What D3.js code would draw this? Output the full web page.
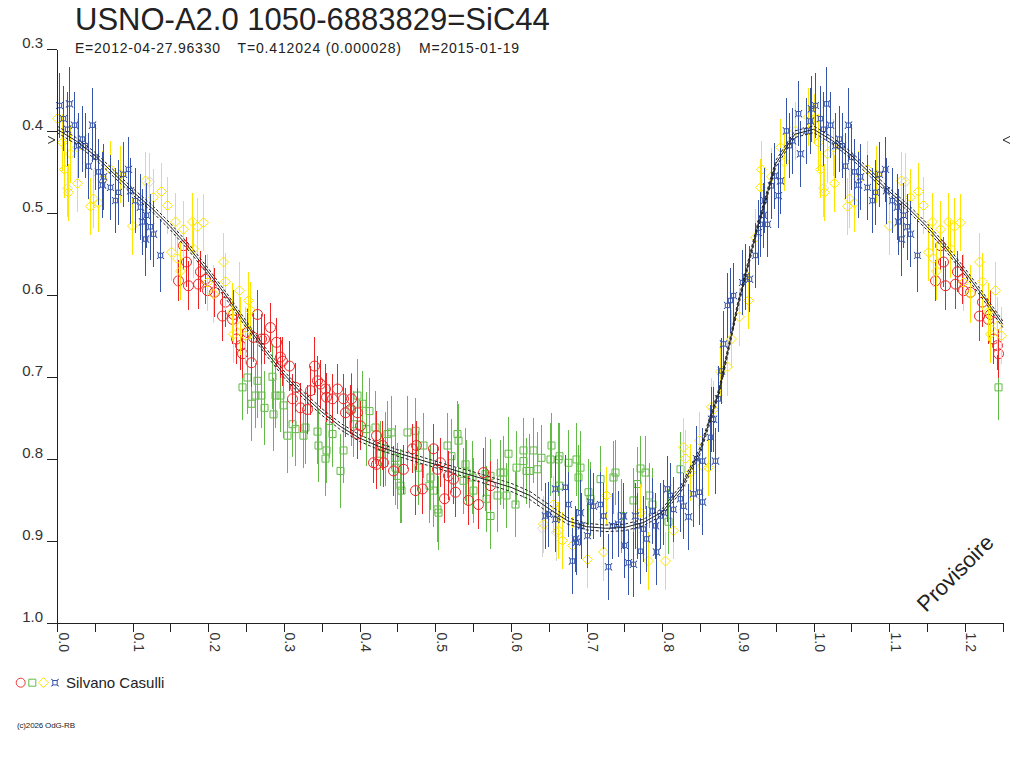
<!DOCTYPE html>
<html>
<head>
<meta charset="utf-8">
<script src="https://cdn.jsdelivr.net/npm/d3@7"></script>
<style>
  body { margin: 0; background: #fff; }
  svg { display: block; }
</style>
</head>
<body>
<svg id="chart" width="1024" height="768"></svg>
<script>

// phase folded data: [phase, magnitude, error]; phases 0..0.25 are repeated after 1.0
var redObs = [
  [0.160,0.583,0.025],[0.167,0.540,0.030],[0.171,0.560,0.030],[0.173,0.589,0.030],[0.187,0.587,0.030],
  [0.189,0.572,0.025],[0.196,0.581,0.030],[0.198,0.595,0.025],[0.207,0.597,0.030],[0.218,0.626,0.030],
  [0.222,0.609,0.030],[0.231,0.630,0.030],[0.233,0.624,0.030],[0.237,0.654,0.030],[0.242,0.662,0.030],
  [0.244,0.672,0.030],[0.251,0.646,0.030],[0.257,0.683,0.030],[0.259,0.652,0.030],[0.264,0.624,0.030],
  [0.270,0.654,0.030],[0.273,0.654,0.030],[0.281,0.640,0.030],[0.290,0.658,0.030],[0.295,0.676,0.025],
  [0.297,0.681,0.030],[0.306,0.687,0.030],[0.310,0.727,0.030],[0.314,0.713,0.030],[0.321,0.738,0.030],
  [0.330,0.740,0.030],[0.334,0.717,0.030],[0.339,0.687,0.035],[0.343,0.705,0.030],[0.347,0.709,0.030],
  [0.354,0.715,0.030],[0.356,0.725,0.030],[0.363,0.727,0.030],[0.370,0.715,0.030],[0.378,0.727,0.030],
  [0.380,0.744,0.030],[0.387,0.740,0.030],[0.389,0.727,0.030],[0.396,0.744,0.030],[0.396,0.770,0.030],
  [0.400,0.760,0.030],[0.418,0.805,0.025],[0.422,0.772,0.030],[0.422,0.807,0.030],[0.429,0.784,0.030],
  [0.431,0.805,0.030],[0.444,0.815,0.030],[0.457,0.813,0.030],[0.469,0.788,0.030],[0.473,0.839,0.030],
  [0.475,0.784,0.030],[0.482,0.837,0.030],[0.497,0.788,0.030],[0.502,0.813,0.030],[0.506,0.805,0.030],
  [0.511,0.849,0.030],[0.517,0.821,0.030],[0.524,0.825,0.030],[0.526,0.841,0.030],[0.543,0.851,0.030],
  [0.556,0.856,0.030],[0.563,0.817,0.030],[0.572,0.833,0.030]
];

var greenObs = [
  [0.244,0.713,0.040],[0.251,0.701,0.045],[0.257,0.733,0.045],[0.262,0.723,0.040],[0.264,0.705,0.045],
  [0.270,0.723,0.040],[0.273,0.738,0.045],[0.284,0.700,0.040],[0.286,0.746,0.045],[0.288,0.723,0.040],
  [0.295,0.723,0.045],[0.299,0.735,0.040],[0.304,0.772,0.045],[0.310,0.758,0.040],[0.314,0.764,0.045],
  [0.325,0.772,0.040],[0.328,0.762,0.045],[0.343,0.767,0.040],[0.345,0.784,0.045],[0.354,0.800,0.045],
  [0.356,0.790,0.040],[0.360,0.754,0.045],[0.363,0.770,0.040],[0.374,0.815,0.045],[0.378,0.790,0.040],
  [0.389,0.740,0.045],[0.391,0.758,0.040],[0.396,0.723,0.045],[0.403,0.733,0.040],[0.409,0.764,0.045],
  [0.413,0.742,0.040],[0.420,0.762,0.045],[0.427,0.794,0.040],[0.433,0.788,0.045],[0.436,0.770,0.040],
  [0.442,0.768,0.045],[0.447,0.799,0.040],[0.447,0.811,0.045],[0.449,0.821,0.040],[0.453,0.833,0.045],
  [0.455,0.839,0.040],[0.462,0.768,0.045],[0.473,0.766,0.040],[0.477,0.811,0.045],[0.484,0.784,0.040],
  [0.491,0.833,0.045],[0.493,0.823,0.040],[0.497,0.839,0.045],[0.502,0.862,0.040],[0.504,0.866,0.045],
  [0.515,0.784,0.040],[0.521,0.797,0.045],[0.528,0.770,0.040],[0.530,0.778,0.045],[0.537,0.827,0.040],
  [0.539,0.807,0.045],[0.541,0.817,0.040],[0.548,0.823,0.045],[0.550,0.839,0.040],[0.565,0.819,0.045],
  [0.567,0.849,0.040],[0.572,0.821,0.045],[0.572,0.870,0.040],[0.581,0.845,0.045],[0.585,0.817,0.040],
  [0.590,0.817,0.045],[0.594,0.845,0.040],[0.596,0.794,0.045],[0.605,0.856,0.040],[0.607,0.811,0.045],
  [0.616,0.790,0.040],[0.616,0.803,0.045],[0.620,0.815,0.040],[0.624,0.815,0.045],[0.629,0.790,0.040],
  [0.634,0.813,0.045],[0.640,0.799,0.040],[0.651,0.801,0.045],[0.653,0.784,0.040],[0.662,0.801,0.045],
  [0.664,0.797,0.040],[0.664,0.833,0.045],[0.675,0.805,0.040],[0.686,0.801,0.045],[0.689,0.823,0.040],
  [0.691,0.811,0.045],[0.702,0.841,0.040],[0.704,0.849,0.045],[0.717,0.825,0.040],[0.735,0.823,0.045],
  [0.737,0.817,0.040],[0.746,0.870,0.045],[0.761,0.851,0.040],[0.766,0.831,0.045],[0.770,0.812,0.040],
  [0.777,0.817,0.045],[0.783,0.845,0.040],[0.786,0.856,0.045],[0.808,0.877,0.040],[0.823,0.813,0.045]
];

var yellowObs = [
  [0.000,0.385,0.030],[0.006,0.414,0.035],[0.009,0.447,0.035],[0.014,0.475,0.035],[0.017,0.428,0.035],
  [0.026,0.420,0.035],[0.027,0.464,0.035],[0.044,0.492,0.035],[0.047,0.483,0.035],[0.054,0.488,0.035],
  [0.059,0.459,0.035],[0.070,0.447,0.035],[0.083,0.453,0.035],[0.099,0.516,0.035],[0.116,0.461,0.035],
  [0.127,0.481,0.035],[0.138,0.474,0.035],[0.145,0.491,0.035],[0.151,0.548,0.035],[0.156,0.511,0.035],
  [0.158,0.556,0.035],[0.162,0.571,0.035],[0.167,0.520,0.035],[0.178,0.511,0.035],[0.180,0.544,0.035],
  [0.185,0.517,0.035],[0.193,0.512,0.035],[0.198,0.585,0.035],[0.206,0.599,0.035],[0.219,0.560,0.035],
  [0.222,0.584,0.035],[0.231,0.621,0.035],[0.233,0.648,0.035],[0.240,0.595,0.035],[0.242,0.638,0.035],
  [0.248,0.650,0.035],[0.253,0.607,0.035],[0.255,0.619,0.035],
  [0.642,0.880,0.035],[0.656,0.856,0.035],[0.662,0.888,0.035],[0.667,0.900,0.035],[0.680,0.906,0.035],
  [0.701,0.923,0.035],[0.721,0.914,0.035],[0.726,0.845,0.035],[0.770,0.866,0.035],[0.781,0.925,0.035],
  [0.803,0.925,0.035],[0.814,0.888,0.035],[0.827,0.786,0.035],[0.830,0.800,0.035],[0.836,0.817,0.035],
  [0.849,0.778,0.035],[0.852,0.809,0.035],[0.860,0.811,0.035],[0.865,0.737,0.035],[0.867,0.740,0.035],
  [0.876,0.694,0.035],[0.885,0.688,0.035],[0.891,0.654,0.035],[0.902,0.627,0.035],[0.913,0.607,0.035],
  [0.922,0.530,0.035],[0.929,0.469,0.035],[0.931,0.447,0.035],[0.944,0.456,0.035],[0.955,0.420,0.035],
  [0.961,0.438,0.035],[0.975,0.400,0.035],[0.992,0.383,0.035]
];

var blueObs = [
  [0.002,0.369,0.040],[0.008,0.385,0.040],[0.013,0.398,0.045],[0.016,0.367,0.045],[0.022,0.393,0.040],
  [0.028,0.418,0.040],[0.033,0.410,0.040],[0.037,0.418,0.040],[0.041,0.443,0.040],[0.046,0.393,0.045],
  [0.050,0.432,0.040],[0.054,0.450,0.040],[0.059,0.466,0.040],[0.061,0.456,0.040],[0.070,0.469,0.040],
  [0.077,0.485,0.040],[0.081,0.475,0.040],[0.087,0.453,0.040],[0.094,0.447,0.040],[0.096,0.473,0.040],
  [0.103,0.485,0.040],[0.110,0.493,0.040],[0.112,0.511,0.040],[0.116,0.532,0.045],[0.118,0.503,0.040],
  [0.123,0.517,0.040],[0.127,0.526,0.040],[0.136,0.552,0.045],
  [0.645,0.870,0.040],[0.649,0.868,0.040],[0.658,0.837,0.040],[0.658,0.874,0.040],[0.671,0.835,0.040],
  [0.675,0.856,0.040],[0.680,0.925,0.040],[0.684,0.898,0.040],[0.686,0.902,0.040],[0.691,0.866,0.040],
  [0.693,0.882,0.040],[0.700,0.894,0.040],[0.704,0.853,0.040],[0.708,0.858,0.040],[0.717,0.856,0.040],
  [0.721,0.870,0.040],[0.728,0.932,0.040],[0.734,0.882,0.040],[0.741,0.880,0.040],[0.748,0.870,0.040],
  [0.750,0.906,0.040],[0.754,0.927,0.040],[0.761,0.929,0.040],[0.764,0.870,0.040],[0.766,0.882,0.040],
  [0.770,0.913,0.040],[0.774,0.886,0.040],[0.779,0.898,0.040],[0.786,0.864,0.040],[0.790,0.882,0.040],
  [0.792,0.914,0.040],[0.797,0.870,0.040],[0.801,0.866,0.040],[0.806,0.837,0.040],[0.810,0.845,0.040],
  [0.814,0.862,0.040],[0.823,0.849,0.040],[0.827,0.858,0.040],[0.834,0.871,0.040],[0.840,0.843,0.040],
  [0.845,0.800,0.040],[0.849,0.841,0.040],[0.852,0.853,0.040],[0.853,0.803,0.040],[0.863,0.774,0.040],
  [0.865,0.752,0.040],[0.867,0.752,0.040],[0.869,0.803,0.040],[0.873,0.727,0.040],[0.878,0.693,0.040],
  [0.880,0.660,0.040],[0.885,0.613,0.040],[0.889,0.607,0.040],[0.893,0.601,0.040],[0.905,0.585,0.040],
  [0.909,0.578,0.040],[0.915,0.581,0.040],[0.922,0.552,0.040],[0.926,0.524,0.040],[0.929,0.514,0.040],
  [0.933,0.503,0.040],[0.935,0.485,0.040],[0.938,0.514,0.040],[0.944,0.467,0.040],[0.948,0.455,0.040],
  [0.953,0.479,0.040],[0.955,0.461,0.040],[0.964,0.400,0.040],[0.968,0.418,0.040],[0.972,0.412,0.040],
  [0.979,0.379,0.040],[0.982,0.428,0.040],[0.990,0.400,0.040],[0.995,0.388,0.040],[0.997,0.373,0.040]
];

// rejected points, drawn light grey
var greyObs = [
  [0.013,0.470,0.035],[0.121,0.462,0.035],[0.641,0.885,0.035],[0.660,0.890,0.035]
];

// mean light curve and its uncertainty
var fitPhase = [0.000,0.025,0.050,0.075,0.100,0.125,0.150,0.175,0.200,0.225,0.250,0.275,0.300,0.325,
  0.350,0.375,0.400,0.425,0.450,0.475,0.500,0.525,0.550,0.575,0.600,0.625,0.650,0.675,0.700,0.725,
  0.750,0.775,0.800,0.825,0.850,0.875,0.900,0.925,0.950,0.975];
var fitMag = [0.398,0.412,0.430,0.452,0.474,0.494,0.517,0.543,0.572,0.603,0.636,0.668,0.697,0.722,
  0.743,0.761,0.775,0.785,0.793,0.800,0.807,0.814,0.821,0.828,0.835,0.845,0.861,0.876,0.883,0.885,
  0.884,0.878,0.865,0.836,0.790,0.718,0.612,0.520,0.440,0.404];
var fitErr = [0.004,0.004,0.004,0.004,0.004,0.004,0.004,0.004,0.004,0.004,0.004,0.004,0.004,0.004,
  0.004,0.004,0.004,0.004,0.004,0.004,0.004,0.004,0.005,0.005,0.005,0.005,0.005,0.004,0.004,0.004,
  0.004,0.004,0.004,0.004,0.004,0.004,0.004,0.004,0.004,0.004];

var xTicks = [0.0,0.1,0.2,0.3,0.4,0.5,0.6,0.7,0.8,0.9,1.0,1.1,1.2];
var xMinorTicks = [0.05,0.15,0.25,0.35,0.45,0.55,0.65,0.75,0.85,0.95,1.05,1.15,1.25];
var yTicks = [0.3,0.4,0.5,0.6,0.7,0.8,0.9,1.0];
var MAX_MAG_MARK = 0.411;

var TITLE = "USNO-A2.0 1050-6883829=SiC44";
var SUB_E = "E=2012-04-27.96330";
var SUB_T = "T=0.412024 (0.000028)";
var SUB_M = "M=2015-01-19";
var OBSERVER = "Silvano Casulli";

var FONT = "'Liberation Sans', Arial, sans-serif";
var INK = "#222";
var COLORS = { red: "#ee2424", green: "#62bb46", yellow: "#ffe600", blue: "#3553a8", grey: "#d4d4d4" };

var svg = d3.select("#chart");

var x = d3.scaleLinear().domain([0, 1.25]).range([57, 1002.8]);
var y = d3.scaleLinear().domain([0.3, 1.0]).range([49, 622.5]);

// fold: repeat the first quarter of the cycle after phase 1
function fold(obs) {
  var out = obs.slice();
  obs.forEach(function(d) {
    if(d[0] + 1 <= 1.25) out.push([d[0] + 1, d[1], d[2]]);
  });
  return out;
}

// symbols
var symbolPath = {
  circle: "M5,0A5,5 0 1,1 -5,0A5,5 0 1,1 5,0Z",
  square: "M-3.5,-3.5H3.5V3.5H-3.5Z",
  diamond: "M0,-5L5,0L0,5L-5,0Z",
  blue: "M-3.5,-3.5L-2,-2.2L2,-2.2L3.5,-3.5L2.2,-2L2.2,2L3.5,3.5L2,2.2L-2,2.2L-3.5,3.5L-2.2,2L-2.2,-2Z"
};

function drawSeries(obs, color, symbol) {
  var pts = fold(obs);
  var g = svg.append("g");
  g.selectAll("line.err").data(pts).enter().append("line")
    .attr("x1", function(d) { return Math.round(x(d[0])) + 0.5; })
    .attr("x2", function(d) { return Math.round(x(d[0])) + 0.5; })
    .attr("y1", function(d) { return y(d[1] - d[2]); })
    .attr("y2", function(d) { return y(d[1] + d[2]); })
    .attr("stroke", color)
    .attr("stroke-width", 1)
    .attr("shape-rendering", "crispEdges");
  g.selectAll("path.sym").data(pts).enter().append("path")
    .attr("d", symbolPath[symbol])
    .attr("transform", function(d) { return "translate(" + (Math.round(x(d[0])) + 0.5) + "," + y(d[1]) + ")"; })
    .attr("fill", "none")
    .attr("stroke", color)
    .attr("stroke-width", 1);
}

drawSeries(greyObs, COLORS.grey, "diamond");
drawSeries(greenObs, COLORS.green, "square");
drawSeries(redObs, COLORS.red, "circle");
drawSeries(yellowObs, COLORS.yellow, "diamond");
drawSeries(blueObs, COLORS.blue, "blue");

// fit curve, with the first quarter repeated and closed at phase 1
var fit = fitPhase.map(function(p, i) { return [p, fitMag[i], fitErr[i]]; });
fit.push([1.0, fitMag[0], fitErr[0]]);
fitPhase.forEach(function(p, i) {
  if(p > 0 && p + 1 <= 1.25) fit.push([p + 1, fitMag[i], fitErr[i]]);
});

var line = d3.line()
  .x(function(d) { return x(d[0]); })
  .y(function(d) { return y(d[1]); });

svg.append("path").datum(fit.map(function(d) { return [d[0], d[1] - d[2]]; }))
  .attr("d", line).attr("fill", "none").attr("stroke", INK)
  .attr("stroke-width", 1).attr("stroke-dasharray", "3,2");
svg.append("path").datum(fit.map(function(d) { return [d[0], d[1] + d[2]]; }))
  .attr("d", line).attr("fill", "none").attr("stroke", INK)
  .attr("stroke-width", 1).attr("stroke-dasharray", "3,2");
svg.append("path").datum(fit)
  .attr("d", line).attr("fill", "none").attr("stroke", INK).attr("stroke-width", 1);

// axes
var yAxis = d3.axisLeft(y).tickValues(yTicks).tickFormat(d3.format(".1f"))
  .tickSize(10).tickSizeOuter(0).tickPadding(4);
var gy = svg.append("g").attr("transform", "translate(57,0)").call(yAxis);
gy.selectAll("text").attr("dy", "-0.08em");

var xAxis = d3.axisBottom(x).tickValues(xTicks).tickFormat(d3.format(".1f"))
  .tickSize(9).tickSizeOuter(0);
var gx = svg.append("g").attr("transform", "translate(0,622.5)").call(xAxis);
gx.selectAll("text")
  .attr("transform", "rotate(90)")
  .attr("x", 10).attr("y", -1).attr("dy", 0)
  .attr("text-anchor", "start")
  .style("font-size", "14px");

var xMinor = d3.axisBottom(x).tickValues(xMinorTicks).tickFormat("").tickSize(9).tickSizeOuter(0);
svg.append("g").attr("transform", "translate(0,622.5)").call(xMinor);

svg.selectAll(".tick line, .domain").attr("stroke", INK).attr("shape-rendering", "crispEdges");
svg.selectAll(".tick text").attr("fill", "#333").style("font-family", FONT);
gy.selectAll("text").style("font-size", "15px");

// maximum marks on both sides
svg.append("path")
  .attr("d", "M48," + (y(MAX_MAG_MARK) - 3.5) + "L55," + y(MAX_MAG_MARK) + "L48," + (y(MAX_MAG_MARK) + 3.5))
  .attr("fill", "none").attr("stroke", INK);
svg.append("path")
  .attr("d", "M1010," + (y(MAX_MAG_MARK) - 3.5) + "L1003," + y(MAX_MAG_MARK) + "L1010," + (y(MAX_MAG_MARK) + 3.5))
  .attr("fill", "none").attr("stroke", INK);

// titles
svg.append("text").attr("x", 75).attr("y", 30)
  .style("font-family", FONT).style("font-size", "31px").attr("fill", INK)
  .text(TITLE);

var subs = [[SUB_E, 75, 145], [SUB_T, 237.5, 163.5], [SUB_M, 419, 100]];
subs.forEach(function(s) {
  svg.append("text").attr("x", s[1]).attr("y", 53)
    .style("font-family", FONT).style("font-size", "14px").attr("fill", INK)
    .attr("textLength", s[2]).attr("lengthAdjust", "spacing")
    .text(s[0]);
});

// legend
var legendSyms = [["circle", COLORS.red, 20.7], ["square", COLORS.green, 32.3],
  ["diamond", COLORS.yellow, 43.5], ["blue", COLORS.blue, 55]];
legendSyms.forEach(function(s) {
  svg.append("path").attr("d", symbolPath[s[0]])
    .attr("transform", "translate(" + s[2] + ",682.7)" + (s[0] === "circle" ? " scale(0.9)" : ""))
    .attr("fill", "none").attr("stroke", s[1]);
});
svg.append("text").attr("x", 66).attr("y", 687.5)
  .style("font-family", FONT).style("font-size", "15px").attr("fill", INK)
  .text(OBSERVER);

svg.append("text").attr("x", 17).attr("y", 728)
  .style("font-family", FONT).style("font-size", "8px").attr("fill", INK)
  .attr("textLength", 58).attr("lengthAdjust", "spacing")
  .text("(c)2026 OdG-RB");

svg.append("text").attr("transform", "translate(926,613) rotate(-45)")
  .style("font-family", FONT).style("font-size", "22px").attr("fill", INK)
  .text("Provisoire");

</script>
</body>
</html>
